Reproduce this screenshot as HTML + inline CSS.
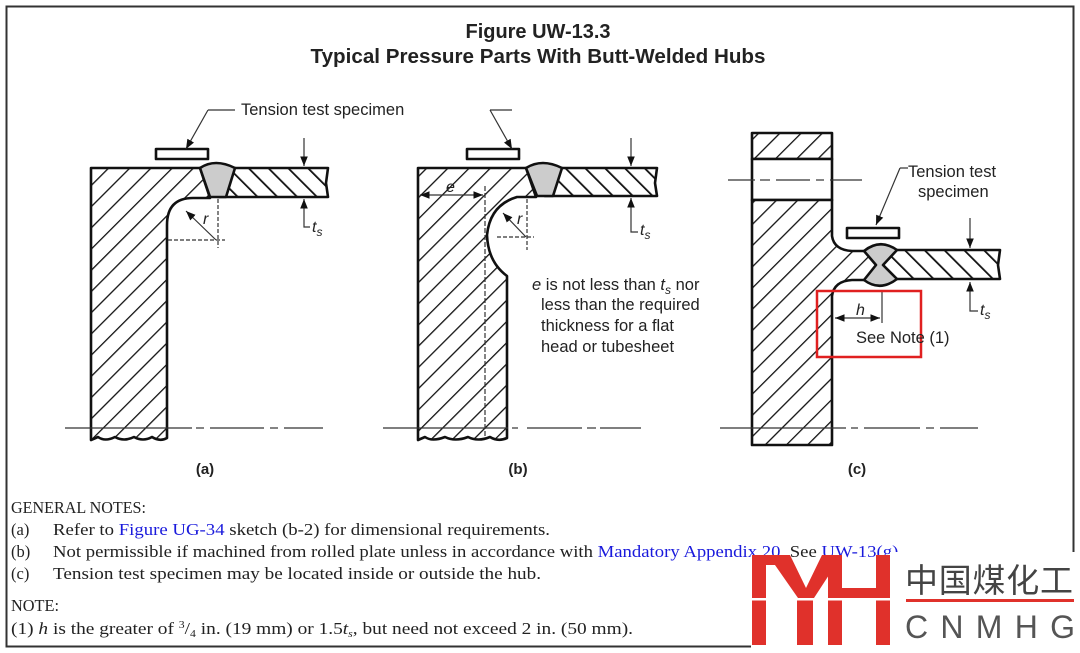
<!DOCTYPE html>
<html><head><meta charset="utf-8"><style>
html,body{margin:0;padding:0;background:#fff;width:1080px;height:653px;overflow:hidden}
svg{display:block}
.s{font-family:"Liberation Sans",sans-serif;fill:#222}
.n{font-family:"Liberation Serif",serif;font-size:16.5px;fill:#222}
.b{fill:#1a1adc}
</style></head><body>
<svg width="1080" height="653" viewBox="0 0 1080 653" xmlns="http://www.w3.org/2000/svg">
<defs>
<pattern id="h1" width="15" height="15" patternUnits="userSpaceOnUse" patternTransform="rotate(45)">
<rect width="15" height="15" fill="#fff"/><line x1="0" y1="0" x2="0" y2="15" stroke="#111" stroke-width="2.6"/></pattern>
<pattern id="h2" width="14" height="14" patternUnits="userSpaceOnUse" patternTransform="rotate(-45)">
<rect width="14" height="14" fill="#fff"/><line x1="0" y1="0" x2="0" y2="14" stroke="#111" stroke-width="3.6"/></pattern>
<marker id="ar" viewBox="0 0 10 10" refX="10" refY="5" markerWidth="8" markerHeight="8" orient="auto-start-reverse"><path d="M0,1 L10,5 L0,9 z" fill="#111"/></marker>
</defs>
<rect x="6.5" y="6.5" width="1067" height="640" fill="none" stroke="#333" stroke-width="2"/>
<text x="538" y="38" class="s" font-size="20" font-weight="bold" text-anchor="middle" textLength="145" lengthAdjust="spacingAndGlyphs">Figure UW-13.3</text>
<text x="538" y="63" class="s" font-size="20" font-weight="bold" text-anchor="middle" textLength="455" lengthAdjust="spacingAndGlyphs">Typical Pressure Parts With Butt-Welded Hubs</text>

<!-- (a) -->
<g stroke="#111" stroke-width="2.6" stroke-linejoin="round">
<path d="M91,168 L200,168 L210,198 L193,198 Q167,198 167,225 L167,438 Q160,442 152,437 Q143,442 134,437 Q124,442 115,437 Q105,442 98,437 L91,440 Z" fill="url(#h1)"/>
<path d="M228,168 L328,168 L326,183 L328,197 L218,197 Z" fill="url(#h2)"/>
<path d="M200,168 Q215,158 235,168 L226,197 L210,197 Z" fill="#ccc"/>
<rect x="156" y="149" width="52" height="10" fill="#fff"/>
</g>
<g stroke="#333" stroke-width="1.2" fill="none">
<line x1="218" y1="199" x2="218" y2="248" stroke-dasharray="4,2"/>
<line x1="168" y1="240" x2="225" y2="240" stroke-dasharray="4,2"/>
<line x1="216" y1="240" x2="186" y2="211" marker-end="url(#ar)"/>
<line x1="208" y1="110" x2="235" y2="110"/>
<line x1="208" y1="110" x2="186" y2="149" marker-end="url(#ar)"/>
<line x1="304" y1="138" x2="304" y2="166" marker-end="url(#ar)"/>
<polyline points="310,227 304,227 304,199" marker-end="url(#ar)"/>
<line x1="65" y1="428" x2="192" y2="428"/><line x1="196" y1="428" x2="204" y2="428"/><line x1="210" y1="428" x2="264" y2="428"/><line x1="270" y1="428" x2="278" y2="428"/><line x1="284" y1="428" x2="323" y2="428"/>
</g>
<text x="241" y="115" class="s" font-size="16.5">Tension test specimen</text>
<text x="203" y="224" class="s" font-size="16" font-style="italic">r</text>
<text x="312" y="232" class="s" font-size="16" font-style="italic">t<tspan font-size="12" dy="4">s</tspan></text>
<text x="205" y="474" class="s" font-size="15" font-weight="bold" text-anchor="middle">(a)</text>

<!-- (b) -->
<g stroke="#111" stroke-width="2.6" stroke-linejoin="round">
<path d="M418,168 L526,168 L536,197 L517,197 Q490,205 487,235 Q488,262 507,276 L507,438 Q498,442 490,437 Q478,442 468,437 Q455,442 445,437 Q432,442 425,437 L418,440 Z" fill="url(#h1)"/>
<path d="M555,168 L657,168 L655,183 L657,196 L545,196 Z" fill="url(#h2)"/>
<path d="M526,168 Q542,158 562,168 L553,196 L537,196 Z" fill="#ccc"/>
<rect x="467" y="149" width="52" height="10" fill="#fff"/>
</g>
<g stroke="#333" stroke-width="1.2" fill="none">
<line x1="485" y1="186" x2="485" y2="438" stroke-dasharray="5,2"/>
<line x1="527" y1="199" x2="527" y2="250" stroke-dasharray="4,2"/>
<line x1="497" y1="237" x2="534" y2="237" stroke-dasharray="4,2"/>
<line x1="526" y1="237" x2="503" y2="213" marker-end="url(#ar)"/>
<line x1="420" y1="195" x2="483" y2="195" marker-start="url(#ar)" marker-end="url(#ar)"/>
<line x1="490" y1="110" x2="512" y2="110"/><line x1="490" y1="110" x2="512" y2="149" marker-end="url(#ar)"/>
<line x1="631" y1="138" x2="631" y2="166" marker-end="url(#ar)"/>
<polyline points="638,232 631,232 631,198" marker-end="url(#ar)"/>
<line x1="383" y1="428" x2="508" y2="428"/><line x1="512" y1="428" x2="518" y2="428"/><line x1="527" y1="428" x2="582" y2="428"/><line x1="587" y1="428" x2="596" y2="428"/><line x1="600" y1="428" x2="641" y2="428"/>
</g>
<text x="446" y="192" class="s" font-size="16" font-style="italic">e</text>
<text x="517" y="224" class="s" font-size="16" font-style="italic">r</text>
<text x="640" y="235" class="s" font-size="16" font-style="italic">t<tspan font-size="12" dy="4">s</tspan></text>
<text x="532" y="290" class="s" font-size="16.5"><tspan font-style="italic">e</tspan> is not less than <tspan font-style="italic">t</tspan><tspan font-style="italic" font-size="12" dy="4">s</tspan><tspan dy="-4"> nor</tspan></text>
<text x="541" y="310" class="s" font-size="16.5">less than the required</text>
<text x="541" y="331" class="s" font-size="16.5">thickness for a flat</text>
<text x="541" y="352" class="s" font-size="16.5">head or tubesheet</text>
<text x="518" y="474" class="s" font-size="15" font-weight="bold" text-anchor="middle">(b)</text>

<!-- (c) -->
<g stroke="#111" stroke-width="2.6" stroke-linejoin="round">
<rect x="752" y="133" width="80" height="26" fill="url(#h1)"/>
<rect x="752" y="159" width="80" height="41" fill="#fff"/>
<path d="M752,200 L832,200 L832,236 Q834,250 852,251 L866,251 L879,266 L866,280 L852,280 Q834,281 832,296 L832,445 L752,445 Z" fill="url(#h1)"/>
<path d="M895,250 L1000,250 L998,265 L1000,279 L895,279 L883,265 Z" fill="url(#h2)"/>
<path d="M864,251 Q880,238 897,250 L883,265 L897,279 Q880,292 864,280 L876,265 Z" fill="#ccc"/>
<rect x="847" y="228" width="52" height="10" fill="#fff"/>
</g>
<g stroke="#333" stroke-width="1.2" fill="none">
<line x1="728" y1="180" x2="755" y2="180"/><line x1="760" y1="180" x2="770" y2="180"/><line x1="776" y1="180" x2="810" y2="180"/><line x1="816" y1="180" x2="824" y2="180"/><line x1="830" y1="180" x2="862" y2="180"/>
<line x1="882" y1="290" x2="882" y2="323"/>
<line x1="835" y1="318" x2="880" y2="318" marker-start="url(#ar)" marker-end="url(#ar)"/>
<line x1="900" y1="168" x2="908" y2="168"/><line x1="900" y1="168" x2="876" y2="225" marker-end="url(#ar)"/>
<line x1="970" y1="218" x2="970" y2="248" marker-end="url(#ar)"/>
<polyline points="978,311 970,311 970,282" marker-end="url(#ar)"/>
<line x1="720" y1="428" x2="846" y2="428"/><line x1="851" y1="428" x2="858" y2="428"/><line x1="864" y1="428" x2="920" y2="428"/><line x1="926" y1="428" x2="934" y2="428"/><line x1="940" y1="428" x2="978" y2="428"/>
</g>
<rect x="817" y="291" width="104" height="66" fill="none" stroke="#e02020" stroke-width="2.5"/>
<text x="908" y="177" class="s" font-size="16.5">Tension test</text>
<text x="918" y="197" class="s" font-size="16.5">specimen</text>
<text x="856" y="315" class="s" font-size="16" font-style="italic">h</text>
<text x="856" y="343" class="s" font-size="16.5">See Note (1)</text>
<text x="980" y="315" class="s" font-size="16" font-style="italic">t<tspan font-size="12" dy="4">s</tspan></text>
<text x="857" y="474" class="s" font-size="15" font-weight="bold" text-anchor="middle">(c)</text>

<!-- notes -->
<text x="11" y="513" class="n" textLength="135" lengthAdjust="spacingAndGlyphs">GENERAL NOTES:</text>
<text x="11" y="535" class="n">(a)</text><text x="53" y="535" class="n" textLength="497" lengthAdjust="spacingAndGlyphs">Refer to <tspan class="b">Figure UG-34</tspan> sketch (b-2) for dimensional requirements.</text>
<text x="11" y="557" class="n">(b)</text><text x="53" y="557" class="n" textLength="850" lengthAdjust="spacingAndGlyphs">Not permissible if machined from rolled plate unless in accordance with <tspan class="b">Mandatory Appendix 20</tspan>. See <tspan class="b">UW-13(g)</tspan>.</text>
<text x="11" y="579" class="n">(c)</text><text x="53" y="579" class="n" textLength="488" lengthAdjust="spacingAndGlyphs">Tension test specimen may be located inside or outside the hub.</text>
<text x="11" y="611" class="n" textLength="48" lengthAdjust="spacingAndGlyphs">NOTE:</text>
<text x="11" y="634" class="n" textLength="622" lengthAdjust="spacingAndGlyphs">(1)  <tspan font-style="italic">h</tspan> is the greater of <tspan font-size="10" dy="-6">3</tspan><tspan dy="6">/</tspan><tspan font-size="10" dy="3">4</tspan><tspan dy="-3"> in. (19 mm) or 1.5</tspan><tspan font-style="italic">t</tspan><tspan font-style="italic" font-size="10" dy="3">s</tspan><tspan dy="-3">, but need not exceed 2 in. (50 mm).</tspan></text>

<!-- logo -->
<rect x="751" y="563" width="329" height="90" fill="#fff"/>
<rect x="890" y="552" width="190" height="101" fill="#fff"/>
<g fill="#e0312b">
<rect x="752" y="555" width="14" height="90"/>
<rect x="752" y="555" width="38" height="10"/>
<polygon points="768,555 790,555 806,588 822,555 842,555 814,598 798,598"/>
<rect x="797" y="598" width="16" height="47"/>
<rect x="828" y="555" width="14" height="90"/>
<rect x="842" y="588" width="36" height="10"/>
<rect x="876" y="555" width="14" height="90"/>
</g>
<rect x="751" y="598" width="140" height="2.5" fill="#fff"/>
<text x="905" y="592" font-family="'Noto Sans CJK SC',sans-serif" font-size="33" fill="#444" textLength="168">中国煤化工</text>
<rect x="906" y="599" width="168" height="3" fill="#e0312b"/>
<text x="905" y="638" font-family="'Liberation Sans',sans-serif" font-size="32" fill="#555" textLength="170">CNMHG</text>
</svg>
</body></html>
